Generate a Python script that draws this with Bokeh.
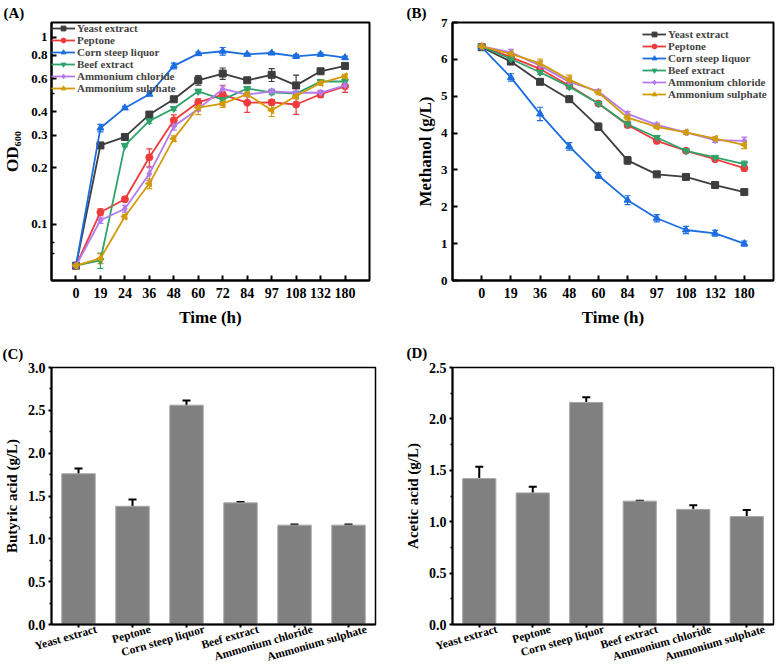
import numpy as np
from bokeh.plotting import figure
from bokeh.models import (ColumnDataSource, Whisker, TeeHead, FixedTicker,
                          Range1d, NumeralTickFormatter, LinearAxis)
from bokeh.layouts import row, column
from bokeh.embed import file_html
from bokeh.resources import INLINE

FONT = "Liberation Serif"

# ---------------- data ----------------
series_names = ["Yeast extract", "Peptone", "Corn steep liquor", "Beef extract",
                "Ammonium chloride", "Ammonium sulphate"]
series_colors = ["#3d3d3d", "#ef3b3b", "#1c6ee0", "#2ea36a", "#b57aeb", "#d39b0a"]
series_markers = ["square", "circle", "triangle", "inverted_triangle", "diamond", "triangle"]
series_angles = [0, 0, 0, 0, 0, np.pi / 2]

# (A) OD600
od_times = ["0", "19", "24", "36", "48", "60", "72", "84", "97", "108", "132", "180"]
od_yeast = [0.060, 0.264, 0.293, 0.386, 0.466, 0.589, 0.640, 0.589, 0.630, 0.553, 0.658, 0.703]
od_yeast_err = [0.002, 0.008, 0.006, 0.012, 0.010, 0.035, 0.045, 0.008, 0.050, 0.075, 0.010, 0.020]
od_peptone = [0.060, 0.116, 0.136, 0.228, 0.360, 0.449, 0.494, 0.447, 0.449, 0.437, 0.496, 0.547]
od_peptone_err = [0.002, 0.005, 0.004, 0.025, 0.025, 0.020, 0.060, 0.050, 0.015, 0.050, 0.020, 0.040]
od_corn = [0.060, 0.327, 0.419, 0.496, 0.703, 0.818, 0.842, 0.811, 0.824, 0.791, 0.811, 0.778]
od_corn_err = [0.002, 0.015, 0.008, 0.008, 0.025, 0.015, 0.040, 0.012, 0.012, 0.020, 0.015, 0.015]
od_beef = [0.060, 0.064, 0.264, 0.357, 0.416, 0.514, 0.464, 0.532, 0.508, 0.500, 0.580, 0.580]
od_beef_err = [0.002, 0.006, 0.005, 0.010, 0.010, 0.012, 0.010, 0.010, 0.015, 0.010, 0.010, 0.020]
od_chloride = [0.060, 0.105, 0.121, 0.186, 0.334, 0.414, 0.529, 0.494, 0.514, 0.505, 0.505, 0.553]
od_chloride_err = [0.002, 0.004, 0.005, 0.015, 0.015, 0.010, 0.020, 0.010, 0.015, 0.010, 0.015, 0.010]
od_sulphate = [0.060, 0.0656, 0.110, 0.165, 0.287, 0.421, 0.442, 0.496, 0.407, 0.485, 0.570, 0.619]
od_sulphate_err = [0.002, 0.004, 0.003, 0.010, 0.010, 0.035, 0.020, 0.015, 0.030, 0.015, 0.015, 0.015]
od_ticks = [0.1, 0.2, 0.3, 0.4, 0.6, 0.8, 1]
od_minor = [0.07, 0.08, 0.5]

# (B) Methanol
me_times = ["0", "19", "36", "48", "60", "84", "97", "108", "132", "180"]
me_yeast = [6.33, 5.94, 5.39, 4.92, 4.17, 3.26, 2.88, 2.81, 2.59, 2.40]
me_yeast_err = [0.03, 0.05, 0.05, 0.04, 0.10, 0.10, 0.04, 0.03, 0.04, 0.04]
me_peptone = [6.35, 6.06, 5.74, 5.29, 4.80, 4.22, 3.79, 3.52, 3.29, 3.05]
me_peptone_err = [0.03, 0.06, 0.08, 0.08, 0.05, 0.07, 0.08, 0.05, 0.05, 0.08]
me_corn = [6.33, 5.51, 4.52, 3.64, 2.85, 2.18, 1.69, 1.37, 1.28, 1.00]
me_corn_err = [0.03, 0.10, 0.18, 0.10, 0.08, 0.12, 0.10, 0.10, 0.08, 0.07]
me_beef = [6.35, 6.01, 5.65, 5.26, 4.80, 4.24, 3.88, 3.52, 3.34, 3.16]
me_beef_err = [0.03, 0.05, 0.06, 0.06, 0.05, 0.08, 0.05, 0.05, 0.04, 0.08]
me_chloride = [6.35, 6.19, 5.83, 5.39, 5.13, 4.52, 4.22, 4.02, 3.81, 3.79]
me_chloride_err = [0.03, 0.08, 0.12, 0.12, 0.05, 0.06, 0.05, 0.04, 0.06, 0.10]
me_sulphate = [6.35, 6.15, 5.89, 5.45, 5.10, 4.42, 4.17, 4.02, 3.85, 3.68]
me_sulphate_err = [0.03, 0.05, 0.12, 0.12, 0.06, 0.06, 0.05, 0.05, 0.05, 0.10]

# (C) Butyric acid, (D) Acetic acid
bar_categories = series_names
butyric = [1.76, 1.38, 2.56, 1.42, 1.16, 1.16]
butyric_err = [0.06, 0.08, 0.055, 0.01, 0.007, 0.008]
acetic = [1.42, 1.28, 2.16, 1.20, 1.12, 1.05]
acetic_err = [0.115, 0.06, 0.05, 0.005, 0.04, 0.065]

od_series = [(od_yeast, od_yeast_err), (od_peptone, od_peptone_err), (od_corn, od_corn_err),
             (od_beef, od_beef_err), (od_chloride, od_chloride_err), (od_sulphate, od_sulphate_err)]
me_series = [(me_yeast, me_yeast_err), (me_peptone, me_peptone_err), (me_corn, me_corn_err),
             (me_beef, me_beef_err), (me_chloride, me_chloride_err), (me_sulphate, me_sulphate_err)]


def style_axis(ax, tick_in=True):
    ax.axis_line_width = 2
    ax.axis_line_color = "black"
    ax.major_tick_line_width = 2
    ax.minor_tick_line_width = 1.5
    if tick_in:
        ax.major_tick_in = 5
        ax.major_tick_out = 0
        ax.minor_tick_in = 3
        ax.minor_tick_out = 0
    else:
        ax.major_tick_in = 0
        ax.major_tick_out = 3
        ax.minor_tick_in = 0
        ax.minor_tick_out = 2
    ax.major_label_text_font = FONT
    ax.major_label_text_font_style = "bold"
    ax.major_label_text_color = "black"
    ax.axis_label_text_font = FONT
    ax.axis_label_text_font_style = "bold"
    ax.axis_label_text_color = "black"


def base_style(p, tick_in=True):
    p.outline_line_color = "black"
    p.outline_line_width = 2
    p.grid.visible = False
    p.background_fill_color = "white"
    p.border_fill_color = "white"
    for ax in p.axis:
        style_axis(ax, tick_in)


def panel_title(p, text, offset, standoff):
    p.title.text = text
    p.title.align = "left"
    p.title.offset = offset
    p.title.standoff = standoff
    p.title.text_font = FONT
    p.title.text_font_style = "bold"
    p.title.text_font_size = "15px"
    p.title.text_color = "black"


def line_panel(times, series, width, height, borders, y_range, y_type, legend_loc):
    left, right, top, bottom = borders
    idx = list(range(len(times)))
    p = figure(width=width, height=height, output_backend="svg", toolbar_location=None,
               x_range=Range1d(-1, len(times)), y_range=y_range, y_axis_type=y_type,
               min_border_left=left, min_border_right=right, min_border_top=top,
               min_border_bottom=bottom)
    for (vals, errs), name, col, mk, ang in zip(series, series_names, series_colors,
                                                 series_markers, series_angles):
        src = ColumnDataSource(dict(x=idx, y=vals,
                                    lo=[v - e for v, e in zip(vals, errs)],
                                    hi=[v + e for v, e in zip(vals, errs)]))
        p.line("x", "y", source=src, line_color=col, line_width=1.8, legend_label=name)
        p.add_layout(Whisker(source=src, base="x", lower="lo", upper="hi",
                             line_color=col, line_width=1.2,
                             upper_head=TeeHead(size=6, line_color=col, line_width=1.2),
                             lower_head=TeeHead(size=6, line_color=col, line_width=1.2)))
        p.scatter("x", "y", source=src, marker=mk, size=7, angle=ang,
                  fill_color=col, line_color=col, legend_label=name)
    base_style(p, tick_in=True)
    p.xaxis.ticker = FixedTicker(ticks=idx, minor_ticks=[])
    p.xaxis.major_label_overrides = {i: t for i, t in zip(idx, times)}
    p.xaxis.major_label_text_font_size = "14px"
    p.xaxis.major_label_standoff = 7
    p.xaxis.axis_label = "Time (h)"
    p.xaxis.axis_label_text_font_size = "17px"
    p.xaxis.axis_label_standoff = 7
    p.yaxis.major_label_text_font_size = "13px"
    p.yaxis.axis_label_text_font_size = "17px"
    lg = p.legend[0]
    lg.location = legend_loc
    lg.margin = 0
    lg.padding = 0
    lg.spacing = 0
    lg.glyph_height = 12
    lg.glyph_width = 24
    lg.label_height = 12
    lg.label_standoff = 2
    lg.label_text_font = FONT
    lg.label_text_font_style = "bold"
    lg.label_text_font_size = "11px"
    lg.background_fill_alpha = 0
    lg.border_line_alpha = 0
    return p


def bar_panel(vals, errs, ylabel, width, height, borders, ymax, ystep, shift=0.33):
    left, right, top, bottom = borders
    n = len(bar_categories)
    idx = list(range(n))
    p = figure(width=width, height=height, output_backend="svg", toolbar_location=None,
               x_range=Range1d(-0.5, n - 0.5), y_range=Range1d(0, ymax),
               x_axis_location=None,
               extra_x_ranges={"lab": Range1d(-0.5 - shift, n - 0.5 - shift)},
               min_border_left=left, min_border_right=right, min_border_top=top,
               min_border_bottom=bottom)
    src = ColumnDataSource(dict(x=idx, v=vals,
                                lo=[v - e for v, e in zip(vals, errs)],
                                hi=[v + e for v, e in zip(vals, errs)]))
    p.vbar(x="x", top="v", width=0.62, source=src, fill_color="#808080",
           line_color="#a8a8a8", line_width=1)
    p.add_layout(Whisker(source=src, base="x", lower="lo", upper="hi",
                         line_color="black", line_width=2,
                         upper_head=TeeHead(size=8, line_color="black", line_width=2),
                         lower_head=TeeHead(size=8, line_color="black", line_width=2)))
    tick_ax = LinearAxis(ticker=FixedTicker(ticks=idx, minor_ticks=[]))
    lab_ax = LinearAxis(x_range_name="lab", ticker=FixedTicker(ticks=idx, minor_ticks=[]))
    p.add_layout(tick_ax, "below")
    p.add_layout(lab_ax, "below")
    base_style(p, tick_in=False)
    p.outline_line_width = 1.5
    tick_ax.major_label_text_font_size = "0px"
    tick_ax.major_label_overrides = {i: "" for i in idx}
    tick_ax.major_label_standoff = 0
    lab_ax.axis_line_color = None
    lab_ax.major_tick_line_color = None
    lab_ax.minor_tick_line_color = None
    lab_ax.major_tick_in = 0
    lab_ax.major_tick_out = 0
    lab_ax.major_label_overrides = {i: t for i, t in zip(idx, bar_categories)}
    lab_ax.major_label_orientation = 0.28
    lab_ax.major_label_text_font_size = "11.5px"
    lab_ax.major_label_standoff = 1
    nmaj = int(round(ymax / ystep))
    p.yaxis.ticker = FixedTicker(ticks=[i * ystep for i in range(nmaj + 1)],
                                 minor_ticks=[(i + 0.5) * ystep for i in range(nmaj)])
    p.yaxis.formatter = NumeralTickFormatter(format="0.0")
    p.yaxis.major_label_text_font_size = "14px"
    p.yaxis.major_label_standoff = 3
    p.yaxis.axis_label = ylabel
    p.yaxis.axis_label_text_font_size = "15px"
    p.yaxis.axis_label_standoff = 5
    return p


H1, H2 = 335, 336

# (A)
pA = line_panel(od_times, od_series, 390, H1, (48, 21, 22, 55), Range1d(0.05, 1.2), "log",
                "top_left")
pA.yaxis.ticker = FixedTicker(ticks=od_ticks, minor_ticks=od_minor)
pA.yaxis.formatter = NumeralTickFormatter(format="0.[0]")
pA.yaxis.major_label_standoff = 4
pA.yaxis.axis_label = "OD₆₀₀"
pA.yaxis.axis_label_standoff = 6
panel_title(pA, "(A)", -48, 4)

# (B)
pB = line_panel(me_times, me_series, 394, H1, (62, 11, 22, 55), Range1d(0, 7), "linear",
                (190, 180))
pB.yaxis.ticker = FixedTicker(ticks=list(range(0, 8)), minor_ticks=[])
pB.yaxis.major_label_standoff = 5
pB.yaxis.axis_label = "Methanol (g/L)"
pB.yaxis.axis_label_standoff = 3
panel_title(pB, "(B)", -46, 4)

# (C)
pC = bar_panel(butyric, butyric_err, "Butyric acid (g/L)", 390, H2, (49, 15, 30, 44), 3.0, 0.5)
panel_title(pC, "(C)", -49, 11)

# (D)
pD = bar_panel(acetic, acetic_err, "Acetic acid (g/L)", 394, H2, (62, 11, 32, 44), 2.5, 0.5)
panel_title(pD, "(D)", -46, 13)

layout = column(row(pA, pB), row(pC, pD))
open("out.html", "w").write(file_html(layout, INLINE))
